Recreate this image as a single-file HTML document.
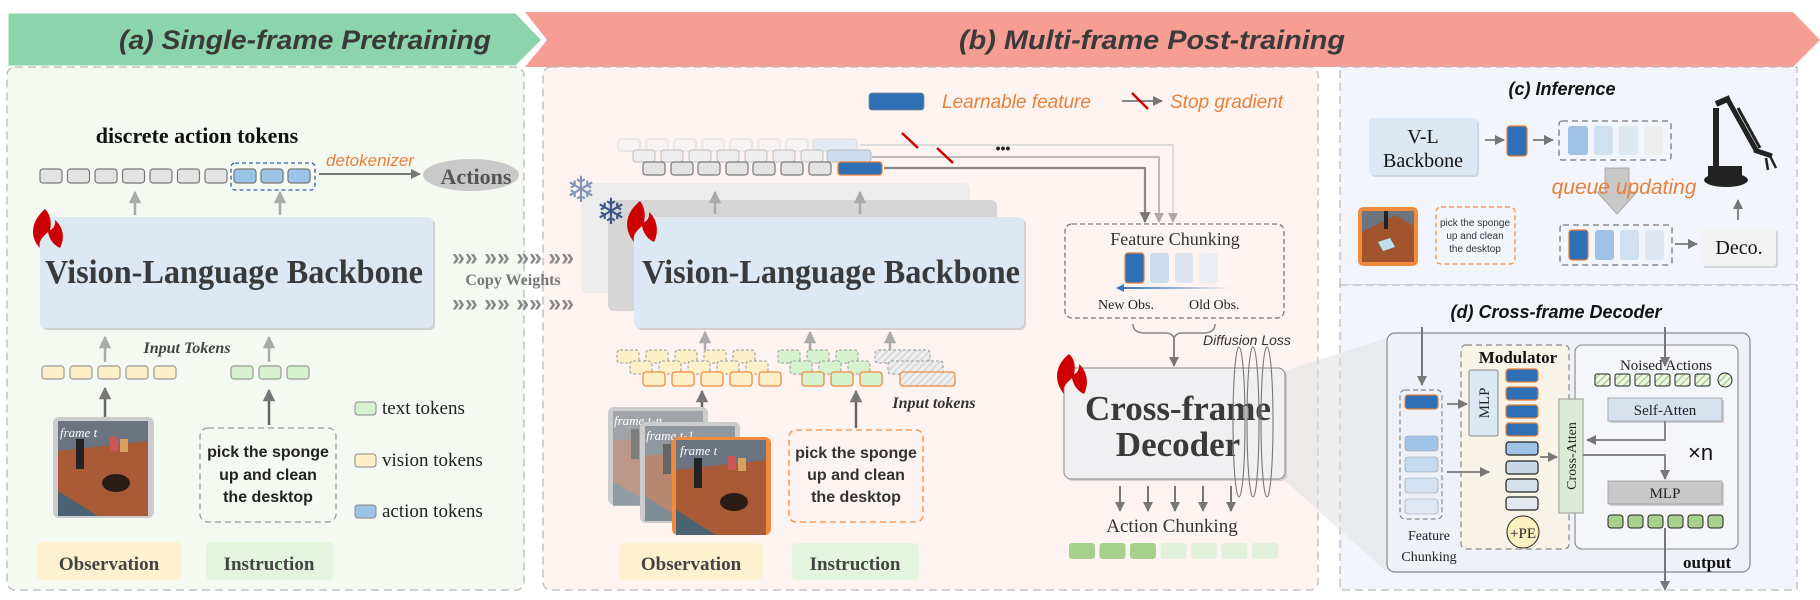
<!DOCTYPE html>
<html><head><meta charset="utf-8"><style>
html,body{margin:0;padding:0;background:#fff;}
svg{display:block}
.serif{font-family:"Liberation Serif",serif;}
.sans{font-family:"Liberation Sans","DejaVu Sans",sans-serif;}
</style></head><body>
<svg width="1820" height="600" viewBox="0 0 1820 600" xmlns="http://www.w3.org/2000/svg">
<defs>
<marker id="ah" viewBox="0 0 10 10" refX="9" refY="5" markerWidth="5" markerHeight="5" orient="auto"><path d="M0,0L10,5L0,10z" fill="#777"/></marker>
<marker id="ahl" viewBox="0 0 10 10" refX="9" refY="5" markerWidth="5" markerHeight="5" orient="auto"><path d="M0,0L10,5L0,10z" fill="#aaa"/></marker>
<pattern id="hatch" width="5" height="5" patternUnits="userSpaceOnUse" patternTransform="rotate(45)"><rect width="5" height="5" fill="#eee"/><line x1="0" y1="0" x2="0" y2="5" stroke="#ccc" stroke-width="2"/></pattern>
<pattern id="ghatch" width="5" height="5" patternUnits="userSpaceOnUse" patternTransform="rotate(45)"><rect width="5" height="5" fill="#eef6e6"/><line x1="0" y1="0" x2="0" y2="5" stroke="#9ccc7e" stroke-width="2.5"/></pattern>
<linearGradient id="blarrow" x1="0" x2="1"><stop offset="0" stop-color="#3a75b8"/><stop offset="1" stop-color="#3a75b8" stop-opacity="0"/></linearGradient>
<g id="img">
<rect x="0" y="0" width="90" height="95" fill="#a9583a"/>
<rect x="0" y="0" width="90" height="30" fill="#6b7480"/>
<polygon points="0,30 90,20 90,95 0,95" fill="#a95a36"/>
<polygon points="0,70 40,95 0,95" fill="#4b6272"/>
<rect x="18" y="18" width="8" height="30" fill="#222"/>
<ellipse cx="58" cy="62" rx="14" ry="9" fill="#2b1d16"/>
<rect x="52" y="16" width="8" height="14" fill="#c55"/><rect x="62" y="18" width="8" height="13" fill="#d9a060"/>
</g>
</defs>

<polygon points="525,12 1793,12 1820,40 1793,67 525,67 547,40" fill="#f69d94"/>
<polygon points="7,12 516,12 543,40 516,67 7,67" fill="#8cd4ab" stroke="#fff" stroke-width="3"/>
<text x="305" y="49" text-anchor="middle" class="sans" font-size="27" font-weight="bold" font-style="italic" fill="#3a3a3a" textLength="372" lengthAdjust="spacingAndGlyphs">(a) Single-frame Pretraining</text>
<text x="1152" y="49" text-anchor="middle" class="sans" font-size="27" font-weight="bold" font-style="italic" fill="#3a3a3a" textLength="386" lengthAdjust="spacingAndGlyphs">(b) Multi-frame Post-training</text>

<rect x="7" y="67" width="517" height="523" rx="8" fill="#f4f9f2" stroke="#bbb" stroke-width="1.3" stroke-dasharray="8,5"/>
<rect x="543" y="67" width="775" height="523" rx="8" fill="#fdf4f2" stroke="#bbb" stroke-width="1.3" stroke-dasharray="8,5"/>
<rect x="1340" y="67" width="457" height="218" fill="#f2f6fc" stroke="#bbb" stroke-width="1.3" stroke-dasharray="8,5"/>
<rect x="1340" y="285" width="457" height="305" fill="#f2f6fc" stroke="#bbb" stroke-width="1.3" stroke-dasharray="8,5"/>

<text x="197" y="143" text-anchor="middle" class="serif" font-size="22" font-weight="bold" fill="#111">discrete action tokens</text>
<g stroke="#777" stroke-width="1.2">
<rect x="40" y="169" width="22" height="14" rx="3" fill="#e3e3e3"/><rect x="67.5" y="169" width="22" height="14" rx="3" fill="#e3e3e3"/><rect x="95" y="169" width="22" height="14" rx="3" fill="#e3e3e3"/><rect x="122.5" y="169" width="22" height="14" rx="3" fill="#e3e3e3"/><rect x="150" y="169" width="22" height="14" rx="3" fill="#e3e3e3"/><rect x="177.5" y="169" width="22" height="14" rx="3" fill="#e3e3e3"/><rect x="205" y="169" width="22" height="14" rx="3" fill="#e3e3e3"/>
<rect x="234" y="169" width="22" height="14" rx="3" fill="#9dc3e6"/><rect x="261" y="169" width="22" height="14" rx="3" fill="#9dc3e6"/><rect x="288" y="169" width="22" height="14" rx="3" fill="#9dc3e6"/>
</g>
<rect x="231" y="163" width="84" height="27" rx="4" fill="none" stroke="#2e5e9e" stroke-width="1.3" stroke-dasharray="4,3"/>
<line x1="319" y1="174" x2="420" y2="174" stroke="#777" stroke-width="2" marker-end="url(#ah)"/>
<text x="370" y="166" text-anchor="middle" class="sans" font-size="17" font-style="italic" fill="#e8803a">detokenizer</text>
<ellipse cx="471" cy="175" rx="48" ry="16" fill="#c9c9c9"/>
<text x="476" y="184" text-anchor="middle" class="serif" font-size="22" font-weight="bold" fill="#555">Actions</text>
<line x1="135" y1="215" x2="135" y2="192" stroke="#aaa" stroke-width="2.5" marker-end="url(#ahl)"/>
<line x1="280" y1="215" x2="280" y2="192" stroke="#aaa" stroke-width="2.5" marker-end="url(#ahl)"/>
<rect x="42" y="219" width="393" height="111" rx="5" fill="#999" opacity="0.4"/>
<rect x="40" y="217" width="393" height="111" rx="5" fill="#dde8f5"/>
<text x="234" y="283" text-anchor="middle" class="serif" font-size="34" font-weight="bold" fill="#3a3a3a" textLength="378" lengthAdjust="spacingAndGlyphs">Vision-Language Backbone</text>
<path d="M45,209 C30,222 30,238 40,248 C38,240 44,236 48,232 C50,242 56,246 60,248 C66,236 62,226 55,220 C56,226 52,230 50,230 C52,222 50,214 45,209 Z" fill="#c00"/>
<g class="sans" font-size="24" font-weight="bold" fill="#888">
<text x="452" y="265" textLength="122" lengthAdjust="spacingAndGlyphs">»» »» »» »»</text>
<text x="452" y="311" textLength="122" lengthAdjust="spacingAndGlyphs">»» »» »» »»</text>
</g>
<text x="513" y="285" text-anchor="middle" class="serif" font-size="16" font-weight="bold" fill="#777">Copy Weights</text>
<text x="187" y="353" text-anchor="middle" class="serif" font-size="16" font-weight="bold" font-style="italic" fill="#444">Input Tokens</text>
<line x1="105" y1="362" x2="105" y2="337" stroke="#aaa" stroke-width="2.5" marker-end="url(#ahl)"/>
<line x1="269" y1="362" x2="269" y2="337" stroke="#aaa" stroke-width="2.5" marker-end="url(#ahl)"/>
<g stroke="#999" stroke-width="1.2">
<rect x="42" y="366" width="22" height="13" rx="3" fill="#fdf0c8"/><rect x="70" y="366" width="22" height="13" rx="3" fill="#fdf0c8"/><rect x="98" y="366" width="22" height="13" rx="3" fill="#fdf0c8"/><rect x="126" y="366" width="22" height="13" rx="3" fill="#fdf0c8"/><rect x="154" y="366" width="22" height="13" rx="3" fill="#fdf0c8"/>
<rect x="231" y="366" width="22" height="13" rx="3" fill="#d6f2cf"/><rect x="259" y="366" width="22" height="13" rx="3" fill="#d6f2cf"/><rect x="287" y="366" width="22" height="13" rx="3" fill="#d6f2cf"/>
</g>
<line x1="105" y1="420" x2="105" y2="388" stroke="#666" stroke-width="2.5" marker-end="url(#ah)"/>
<line x1="269" y1="425" x2="269" y2="390" stroke="#666" stroke-width="2.5" marker-end="url(#ah)"/>
<rect x="53" y="417" width="101" height="101" rx="6" fill="#ccc"/>
<use href="#img" x="58" y="421"/>
<text x="60" y="437" class="serif" font-size="13" font-style="italic" fill="#fff">frame t</text>
<rect x="200" y="428" width="136" height="94" rx="8" fill="none" stroke="#999" stroke-width="1.3" stroke-dasharray="6,4"/>
<g class="sans" font-size="16" font-weight="bold" fill="#222" text-anchor="middle">
<text x="268" y="457">pick the sponge</text><text x="268" y="480">up and clean</text><text x="268" y="502">the desktop</text></g>
<g stroke="#888" stroke-width="1"><rect x="355" y="402" width="21" height="13" rx="3" fill="#d6f2cf"/><rect x="355" y="454" width="21" height="13" rx="3" fill="#fdf0c8"/><rect x="355" y="505" width="21" height="13" rx="3" fill="#9dc3e6"/></g>
<g class="serif" font-size="19" fill="#222"><text x="382" y="414">text tokens</text><text x="382" y="466">vision tokens</text><text x="382" y="517">action tokens</text></g>
<rect x="37" y="542" width="145" height="38" rx="5" fill="#fdf1cf"/>
<rect x="206" y="542" width="127" height="38" rx="5" fill="#e3f5dc"/>
<text x="109" y="570" text-anchor="middle" class="serif" font-size="19" font-weight="bold" fill="#444">Observation</text>
<text x="269" y="570" text-anchor="middle" class="serif" font-size="19" font-weight="bold" fill="#444">Instruction</text>

<rect x="869" y="93" width="55" height="17" rx="3" fill="#2e6fb5" stroke="#888" stroke-width="0.8"/>
<text x="942" y="108" class="sans" font-size="19" font-style="italic" fill="#e8803a">Learnable feature</text>
<line x1="1122" y1="101" x2="1162" y2="101" stroke="#888" stroke-width="2" marker-end="url(#ah)"/>
<line x1="1132" y1="93" x2="1148" y2="109" stroke="#c00" stroke-width="2.5"/>
<text x="1170" y="108" class="sans" font-size="19" font-style="italic" fill="#e8803a">Stop gradient</text>
<g stroke="#ddd" stroke-width="1" fill="#f6f3f2">
<rect x="618" y="139" width="22" height="12" rx="3"/><rect x="646" y="139" width="22" height="12" rx="3"/><rect x="674" y="139" width="22" height="12" rx="3"/><rect x="702" y="139" width="22" height="12" rx="3"/><rect x="730" y="139" width="22" height="12" rx="3"/><rect x="758" y="139" width="22" height="12" rx="3"/><rect x="786" y="139" width="22" height="12" rx="3"/><rect x="813" y="139" width="44" height="12" rx="3" fill="#e4eaf2"/></g>
<g stroke="#bbb" stroke-width="1" fill="#eee">
<rect x="633" y="150" width="22" height="12" rx="3"/><rect x="661" y="150" width="22" height="12" rx="3"/><rect x="689" y="150" width="22" height="12" rx="3"/><rect x="717" y="150" width="22" height="12" rx="3"/><rect x="745" y="150" width="22" height="12" rx="3"/><rect x="773" y="150" width="22" height="12" rx="3"/><rect x="801" y="150" width="22" height="12" rx="3"/><rect x="827" y="150" width="44" height="12" rx="3" fill="#cddcee"/></g>
<g stroke="#777" stroke-width="1.2" fill="#e3e3e3">
<rect x="643" y="162" width="22" height="13" rx="3"/><rect x="671" y="162" width="22" height="13" rx="3"/><rect x="698" y="162" width="22" height="13" rx="3"/><rect x="726" y="162" width="22" height="13" rx="3"/><rect x="753" y="162" width="22" height="13" rx="3"/><rect x="781" y="162" width="22" height="13" rx="3"/><rect x="809" y="162" width="22" height="13" rx="3"/></g>
<rect x="838" y="162" width="44" height="13" rx="3" fill="#2e6fb5" stroke="#e8803a" stroke-width="1.3"/>
<polyline points="860,145 1173,145 1173,222" fill="none" stroke="#ddd" stroke-width="2" marker-end="url(#ahl)"/>
<polyline points="872,157 1159,157 1159,222" fill="none" stroke="#bbb" stroke-width="2" marker-end="url(#ahl)"/>
<polyline points="884,168 1145,168 1145,222" fill="none" stroke="#888" stroke-width="2.2" marker-end="url(#ah)"/>
<line x1="902" y1="133" x2="918" y2="148" stroke="#c00" stroke-width="2.5"/>
<line x1="937" y1="148" x2="953" y2="163" stroke="#c00" stroke-width="2.5"/>
<text x="1003" y="153" text-anchor="middle" class="sans" font-size="14" font-weight="bold" fill="#222">•••</text>
<rect x="581" y="183" width="389" height="110" rx="6" fill="#ececec"/>
<rect x="608" y="200" width="389" height="111" rx="6" fill="#d6d6d6"/>
<rect x="636" y="219" width="390" height="111" rx="6" fill="#999" opacity="0.4"/>
<rect x="634" y="217" width="390" height="111" rx="6" fill="#dde8f5"/>
<line x1="715" y1="214" x2="715" y2="192" stroke="#aaa" stroke-width="2.5" marker-end="url(#ahl)"/>
<line x1="860" y1="214" x2="860" y2="192" stroke="#aaa" stroke-width="2.5" marker-end="url(#ahl)"/>
<text x="831" y="283" text-anchor="middle" class="serif" font-size="34" font-weight="bold" fill="#3a3a3a" textLength="378" lengthAdjust="spacingAndGlyphs">Vision-Language Backbone</text>
<text x="581" y="202" text-anchor="middle" font-size="36" fill="#8496b6" class="sans">❄</text>
<text x="611" y="224" text-anchor="middle" font-size="36" fill="#3c5688" class="sans">❄</text>
<path d="M640,201 C624,214 624,230 634,242 C632,234 638,230 642,226 C644,236 650,240 654,242 C660,230 656,218 649,212 C650,218 646,222 644,222 C646,214 644,206 640,201 Z" fill="#c00"/>
<line x1="705" y1="350" x2="705" y2="332" stroke="#aaa" stroke-width="2.5" marker-end="url(#ahl)"/>
<line x1="810" y1="350" x2="810" y2="332" stroke="#aaa" stroke-width="2.5" marker-end="url(#ahl)"/>
<line x1="890" y1="350" x2="890" y2="332" stroke="#aaa" stroke-width="2.5" marker-end="url(#ahl)"/>
<g stroke="#999" stroke-width="1" stroke-dasharray="3,2" fill="#fdf0c8">
<rect x="617" y="350" width="22" height="13" rx="3"/><rect x="646" y="350" width="22" height="13" rx="3"/><rect x="675" y="350" width="22" height="13" rx="3"/><rect x="704" y="350" width="22" height="13" rx="3"/><rect x="733" y="350" width="22" height="13" rx="3"/>
<rect x="630" y="361" width="22" height="13" rx="3"/><rect x="659" y="361" width="22" height="13" rx="3"/><rect x="688" y="361" width="22" height="13" rx="3"/><rect x="717" y="361" width="22" height="13" rx="3"/><rect x="746" y="361" width="22" height="13" rx="3"/>
<rect x="778" y="350" width="22" height="13" rx="3" fill="#d6f2cf"/><rect x="807" y="350" width="22" height="13" rx="3" fill="#d6f2cf"/><rect x="836" y="350" width="22" height="13" rx="3" fill="#d6f2cf"/>
<rect x="790" y="361" width="22" height="13" rx="3" fill="#d6f2cf"/><rect x="819" y="361" width="22" height="13" rx="3" fill="#d6f2cf"/><rect x="848" y="361" width="22" height="13" rx="3" fill="#d6f2cf"/>
<rect x="875" y="350" width="55" height="13" rx="3" fill="url(#hatch)"/><rect x="888" y="361" width="55" height="13" rx="3" fill="url(#hatch)"/>
</g>
<g stroke="#f08a3c" stroke-width="1.3" fill="#fdf0c8">
<rect x="643" y="372" width="22" height="14" rx="3"/><rect x="672" y="372" width="22" height="14" rx="3"/><rect x="701" y="372" width="22" height="14" rx="3"/><rect x="730" y="372" width="22" height="14" rx="3"/><rect x="759" y="372" width="22" height="14" rx="3"/>
<rect x="802" y="372" width="22" height="14" rx="3" fill="#d6f2cf"/><rect x="831" y="372" width="22" height="14" rx="3" fill="#d6f2cf"/><rect x="860" y="372" width="22" height="14" rx="3" fill="#d6f2cf"/>
<rect x="900" y="372" width="55" height="14" rx="3" fill="url(#hatch)"/></g>
<text x="934" y="408" text-anchor="middle" class="serif" font-size="16" font-weight="bold" font-style="italic" fill="#333">Input tokens</text>
<line x1="702" y1="420" x2="702" y2="391" stroke="#666" stroke-width="2.5" marker-end="url(#ah)"/>
<line x1="856" y1="428" x2="856" y2="391" stroke="#666" stroke-width="2.5" marker-end="url(#ah)"/>
<rect x="608" y="407" width="100" height="98" rx="6" fill="#ccc"/>
<g opacity="0.45"><use href="#img" x="613" y="411"/></g>
<text x="614" y="425" class="serif" font-size="13" font-style="italic" fill="#fff">frame t-n</text>
<rect x="640" y="422" width="100" height="101" rx="6" fill="#ccc"/>
<g opacity="0.6"><use href="#img" x="645" y="426"/></g>
<text x="646" y="440" class="serif" font-size="13" font-style="italic" fill="#fff">frame t-1</text>
<rect x="672" y="437" width="99" height="98" rx="6" fill="#f08a3c"/>
<use href="#img" x="676" y="440"/>
<text x="680" y="455" class="serif" font-size="13" font-style="italic" fill="#fff">frame t</text>
<rect x="789" y="430" width="134" height="92" rx="7" fill="none" stroke="#f08a3c" stroke-width="1.3" stroke-dasharray="6,4"/>
<g class="sans" font-size="16" font-weight="bold" fill="#333" text-anchor="middle">
<text x="856" y="458">pick the sponge</text><text x="856" y="480">up and clean</text><text x="856" y="502">the desktop</text></g>
<rect x="619" y="543" width="144" height="37" rx="5" fill="#fdf1cf"/>
<rect x="792" y="543" width="127" height="37" rx="5" fill="#e3f5dc"/>
<text x="691" y="570" text-anchor="middle" class="serif" font-size="19" font-weight="bold" fill="#444">Observation</text>
<text x="855" y="570" text-anchor="middle" class="serif" font-size="19" font-weight="bold" fill="#444">Instruction</text>
<polygon points="1284,371 1387,338 1387,572 1284,480" fill="#ddd" opacity="0.5"/>
<rect x="1065" y="224" width="219" height="94" rx="7" fill="none" stroke="#777" stroke-width="1.3" stroke-dasharray="5,3"/>
<text x="1175" y="245" text-anchor="middle" class="serif" font-size="18" fill="#333">Feature Chunking</text>
<rect x="1125" y="253" width="19" height="30" rx="3" fill="#2e6fb5" stroke="#e8803a" stroke-width="1.2"/>
<rect x="1150" y="253" width="19" height="30" rx="3" fill="#cddcee"/>
<rect x="1175" y="253" width="18" height="30" rx="3" fill="#dde4ee"/>
<rect x="1199" y="253" width="19" height="30" rx="3" fill="#eaedf2"/>
<rect x="1122" y="287" width="110" height="2" fill="url(#blarrow)"/>
<polygon points="1116,288 1124,284 1124,292" fill="#3a75b8"/>
<text x="1098" y="309" class="serif" font-size="14" fill="#222">New Obs.</text>
<text x="1189" y="309" class="serif" font-size="14" fill="#222">Old Obs.</text>
<path d="M1133,324 Q1133,333 1145,333 L1165,333 Q1174,333 1174,340 Q1174,333 1183,333 L1203,333 Q1215,333 1215,324" fill="none" stroke="#888" stroke-width="1.5"/>
<line x1="1174" y1="338" x2="1174" y2="366" stroke="#888" stroke-width="2" marker-end="url(#ah)"/>
<text x="1203" y="345" class="sans" font-size="14" font-style="italic" fill="#333">Diffusion Loss</text>
<rect x="1066" y="370" width="221" height="111" rx="7" fill="#999" opacity="0.4"/>
<rect x="1064" y="368" width="221" height="111" rx="7" fill="#f0f0f2" stroke="#888" stroke-width="1"/>
<text x="1178" y="420" text-anchor="middle" class="serif" font-size="35" font-weight="bold" fill="#3a3a3a">Cross-frame</text>
<text x="1178" y="456" text-anchor="middle" class="serif" font-size="35" font-weight="bold" fill="#3a3a3a">Decoder</text>
<path d="M1069,354 C1054,366 1054,382 1064,394 C1062,386 1068,382 1072,378 C1074,388 1080,392 1084,394 C1090,382 1086,370 1079,364 C1080,370 1076,374 1074,374 C1076,366 1074,358 1069,354 Z" fill="#c00"/>
<g fill="none" stroke="#777" stroke-width="1.1">
<ellipse cx="1239" cy="422" rx="6" ry="75"/><ellipse cx="1253" cy="422" rx="6" ry="75"/><ellipse cx="1267" cy="422" rx="6" ry="75"/></g>
<g stroke="#777" stroke-width="2">
<line x1="1120" y1="486" x2="1120" y2="511" marker-end="url(#ah)"/><line x1="1148" y1="486" x2="1148" y2="511" marker-end="url(#ah)"/><line x1="1175" y1="486" x2="1175" y2="511" marker-end="url(#ah)"/><line x1="1203" y1="486" x2="1203" y2="511" marker-end="url(#ah)"/><line x1="1231" y1="486" x2="1231" y2="511" marker-end="url(#ah)"/></g>
<text x="1172" y="532" text-anchor="middle" class="serif" font-size="19" fill="#333">Action Chunking</text>
<g>
<rect x="1069" y="543" width="26" height="16" rx="3" fill="#a8d08d"/><rect x="1099.5" y="543" width="26" height="16" rx="3" fill="#a8d08d"/><rect x="1130" y="543" width="26" height="16" rx="3" fill="#a8d08d"/>
<rect x="1160.5" y="543" width="26" height="16" rx="3" fill="#e2efd9"/><rect x="1191" y="543" width="26" height="16" rx="3" fill="#e2efd9"/><rect x="1221.5" y="543" width="26" height="16" rx="3" fill="#e2efd9"/><rect x="1252" y="543" width="26" height="16" rx="3" fill="#e2efd9"/></g>

<text x="1562" y="95" text-anchor="middle" class="sans" font-size="18" font-weight="bold" font-style="italic" fill="#111">(c) Inference</text>
<rect x="1371" y="120" width="108" height="57" rx="4" fill="#aaa" opacity="0.4"/>
<rect x="1369" y="118" width="108" height="57" rx="4" fill="#dde8f5"/>
<text x="1423" y="143" text-anchor="middle" class="serif" font-size="20" fill="#111">V-L</text>
<text x="1423" y="167" text-anchor="middle" class="serif" font-size="20" fill="#111">Backbone</text>
<line x1="1485" y1="140" x2="1504" y2="140" stroke="#888" stroke-width="2" marker-end="url(#ah)"/>
<rect x="1507" y="126" width="20" height="30" rx="3" fill="#2e6fb5" stroke="#e8803a" stroke-width="1.2"/>
<line x1="1533" y1="140" x2="1553" y2="140" stroke="#888" stroke-width="2" marker-end="url(#ah)"/>
<rect x="1559" y="121" width="112" height="39" rx="3" fill="none" stroke="#777" stroke-width="1.3" stroke-dasharray="6,4"/>
<rect x="1568" y="126" width="20" height="29" rx="3" fill="#9ec3e6"/><rect x="1594" y="126" width="19" height="29" rx="3" fill="#cfe0f1"/><rect x="1619" y="126" width="19" height="29" rx="3" fill="#dde8f3"/><rect x="1644" y="126" width="19" height="29" rx="3" fill="#eee"/>
<polygon points="1605,168 1629,168 1629,192 1637,192 1617,214 1597,192 1605,192" fill="#c8c8c8" stroke="#aaa"/>
<text x="1624" y="194" text-anchor="middle" class="sans" font-size="21" font-style="italic" fill="#e8803a">queue updating</text>
<g fill="#222" stroke="#222">
<line x1="1716" y1="170" x2="1716" y2="108" stroke-width="6"/>
<line x1="1716" y1="104" x2="1730" y2="98" stroke-width="6"/>
<line x1="1728" y1="100" x2="1756" y2="150" stroke-width="5"/>
<line x1="1738" y1="108" x2="1760" y2="148" stroke-width="3"/>
<line x1="1754" y1="150" x2="1772" y2="156" stroke-width="5"/>
<line x1="1770" y1="156" x2="1776" y2="168" stroke-width="2.5"/>
<line x1="1766" y1="158" x2="1768" y2="170" stroke-width="2.5"/>
<ellipse cx="1726" cy="180" rx="22" ry="7" stroke="none"/>
<rect x="1708" y="166" width="34" height="14" stroke="none"/>
</g>
<rect x="1358" y="207" width="60" height="59" rx="5" fill="#f08a3c"/>
<rect x="1362" y="211" width="52" height="51" fill="#6b7480"/>
<polygon points="1362,232 1395,215 1414,226 1414,262 1362,262" fill="#a0552f"/>
<polygon points="1378,242 1390,238 1395,247 1383,251" fill="#bfe0ee"/>
<rect x="1384" y="211" width="4" height="18" fill="#222"/>
<rect x="1436" y="207" width="79" height="57" rx="5" fill="none" stroke="#f08a3c" stroke-width="1.2" stroke-dasharray="5,3"/>
<g class="sans" font-size="10" fill="#333" text-anchor="middle"><text x="1475" y="226">pick the sponge</text><text x="1475" y="239">up and clean</text><text x="1475" y="252">the desktop</text></g>
<rect x="1560" y="225" width="112" height="40" rx="3" fill="none" stroke="#777" stroke-width="1.3" stroke-dasharray="6,4"/>
<rect x="1569" y="230" width="19" height="30" rx="3" fill="#2e6fb5" stroke="#e8803a" stroke-width="1.2"/><rect x="1595" y="230" width="19" height="30" rx="3" fill="#9ec3e6"/><rect x="1620" y="230" width="19" height="30" rx="3" fill="#cfe0f1"/><rect x="1645" y="230" width="19" height="30" rx="3" fill="#dde8f3"/>
<line x1="1675" y1="244" x2="1697" y2="244" stroke="#888" stroke-width="2" marker-end="url(#ah)"/>
<rect x="1703" y="230" width="75" height="38" rx="3" fill="#aaa" opacity="0.4"/>
<rect x="1701" y="228" width="75" height="38" rx="3" fill="#f2f2f2"/>
<text x="1739" y="254" text-anchor="middle" class="serif" font-size="20" fill="#111">Deco.</text>
<line x1="1738" y1="220" x2="1738" y2="200" stroke="#888" stroke-width="2" marker-end="url(#ah)"/>

<text x="1556" y="318" text-anchor="middle" class="sans" font-size="18" font-weight="bold" font-style="italic" fill="#111">(d) Cross-frame Decoder</text>
<rect x="1387" y="333" width="363" height="239" rx="8" fill="#eef1f7" stroke="#888" stroke-width="1.2"/>
<line x1="1422" y1="327" x2="1422" y2="385" stroke="#777" stroke-width="2" marker-end="url(#ah)"/>
<rect x="1400" y="390" width="42" height="129" rx="5" fill="none" stroke="#888" stroke-width="1.2" stroke-dasharray="5,3"/>
<rect x="1405" y="395" width="33" height="14" rx="3" fill="#2e6fb5" stroke="#e8803a" stroke-width="1.2"/>
<rect x="1405" y="436" width="33" height="15" rx="3" fill="#9ec3e6" stroke="#999" stroke-width="0.6"/>
<rect x="1405" y="457" width="33" height="15" rx="3" fill="#c4daef" stroke="#999" stroke-width="0.6"/>
<rect x="1405" y="478" width="33" height="15" rx="3" fill="#d2e2f2" stroke="#999" stroke-width="0.6"/>
<rect x="1405" y="499" width="33" height="15" rx="3" fill="#e0e9f4" stroke="#999" stroke-width="0.6"/>
<text x="1429" y="540" text-anchor="middle" class="serif" font-size="14" fill="#222">Feature</text>
<text x="1429" y="561" text-anchor="middle" class="serif" font-size="14" fill="#222">Chunking</text>
<rect x="1461" y="345" width="108" height="204" rx="5" fill="#f7f3e6" stroke="#888" stroke-width="1.2" stroke-dasharray="6,4"/>
<text x="1518" y="363" text-anchor="middle" class="serif" font-size="17" font-weight="bold" fill="#111">Modulator</text>
<line x1="1447" y1="404" x2="1467" y2="404" stroke="#888" stroke-width="2" marker-end="url(#ah)"/>
<line x1="1447" y1="472" x2="1489" y2="472" stroke="#888" stroke-width="2" marker-end="url(#ah)"/>
<rect x="1469" y="370" width="29" height="66" rx="2" fill="#dde8f5" stroke="#888" stroke-width="1"/>
<text transform="translate(1489,403) rotate(-90)" text-anchor="middle" class="serif" font-size="15" fill="#222">MLP</text>
<g stroke="#e8803a" stroke-width="1.2" fill="#2e6fb5">
<rect x="1506" y="369" width="32" height="13" rx="3"/><rect x="1506" y="387" width="32" height="13" rx="3"/><rect x="1506" y="405" width="32" height="13" rx="3"/><rect x="1506" y="423" width="32" height="13" rx="3"/></g>
<g stroke="#222" stroke-width="1.2">
<rect x="1506" y="442" width="32" height="13" rx="3" fill="#9ec3e6"/><rect x="1506" y="461" width="32" height="13" rx="3" fill="#c8d8e6"/><rect x="1506" y="479" width="32" height="13" rx="3" fill="#d6e0ea"/><rect x="1506" y="497" width="32" height="13" rx="3" fill="#e2e8ee"/></g>
<circle cx="1523" cy="532" r="16" fill="#fdf0c0" stroke="#222" stroke-width="1"/>
<text x="1523" y="538" text-anchor="middle" class="serif" font-size="15" fill="#222">+PE</text>
<line x1="1540" y1="457" x2="1557" y2="457" stroke="#888" stroke-width="2" marker-end="url(#ah)"/>
<rect x="1575" y="345" width="163" height="204" rx="7" fill="#f4f6fa" stroke="#888" stroke-width="1.1"/>
<rect x="1559" y="399" width="24" height="114" fill="#dcebd3" stroke="#999" stroke-width="1"/>
<text transform="translate(1576,456) rotate(-90)" text-anchor="middle" class="serif" font-size="14" fill="#222">Cross-Atten</text>
<text x="1666" y="370" text-anchor="middle" class="serif" font-size="15" fill="#222">Noised  Actions</text>
<line x1="1665" y1="327" x2="1665" y2="366" stroke="#777" stroke-width="2" marker-end="url(#ah)"/>
<g stroke="#222" stroke-width="1" fill="url(#ghatch)">
<rect x="1595" y="374" width="15" height="12" rx="2"/><rect x="1615" y="374" width="15" height="12" rx="2"/><rect x="1635" y="374" width="15" height="12" rx="2"/><rect x="1655" y="374" width="15" height="12" rx="2"/><rect x="1675" y="374" width="15" height="12" rx="2"/><rect x="1695" y="374" width="15" height="12" rx="2"/><circle cx="1725" cy="380" r="7"/></g>
<rect x="1610" y="400" width="114" height="23" fill="#999" opacity="0.4"/>
<rect x="1608" y="398" width="114" height="23" fill="#d7e1ee" stroke="#999" stroke-width="0.8"/>
<text x="1665" y="415" text-anchor="middle" class="serif" font-size="15" fill="#222">Self-Atten</text>
<polyline points="1665,421 1665,440 1587,440" fill="none" stroke="#888" stroke-width="2" marker-end="url(#ah)"/>
<polyline points="1583,455 1665,455 1665,479" fill="none" stroke="#888" stroke-width="2" marker-end="url(#ah)"/>
<text x="1688" y="460" class="sans" font-size="22" fill="#111">×n</text>
<rect x="1610" y="483" width="114" height="23" fill="#999" opacity="0.4"/>
<rect x="1608" y="481" width="114" height="23" fill="#c8c8c8" stroke="#999" stroke-width="0.8"/>
<text x="1665" y="498" text-anchor="middle" class="serif" font-size="15" fill="#222">MLP</text>
<g stroke="#222" stroke-width="1" fill="#a8d08d">
<rect x="1608" y="515" width="15" height="13" rx="3"/><rect x="1628" y="515" width="15" height="13" rx="3"/><rect x="1648" y="515" width="15" height="13" rx="3"/><rect x="1668" y="515" width="15" height="13" rx="3"/><rect x="1688" y="515" width="15" height="13" rx="3"/><rect x="1708" y="515" width="15" height="13" rx="3"/></g>
<line x1="1665" y1="528" x2="1665" y2="590" stroke="#777" stroke-width="2" marker-end="url(#ah)"/>
<text x="1683" y="568" class="serif" font-size="17" font-weight="bold" fill="#111">output</text>
</svg>
</body></html>
